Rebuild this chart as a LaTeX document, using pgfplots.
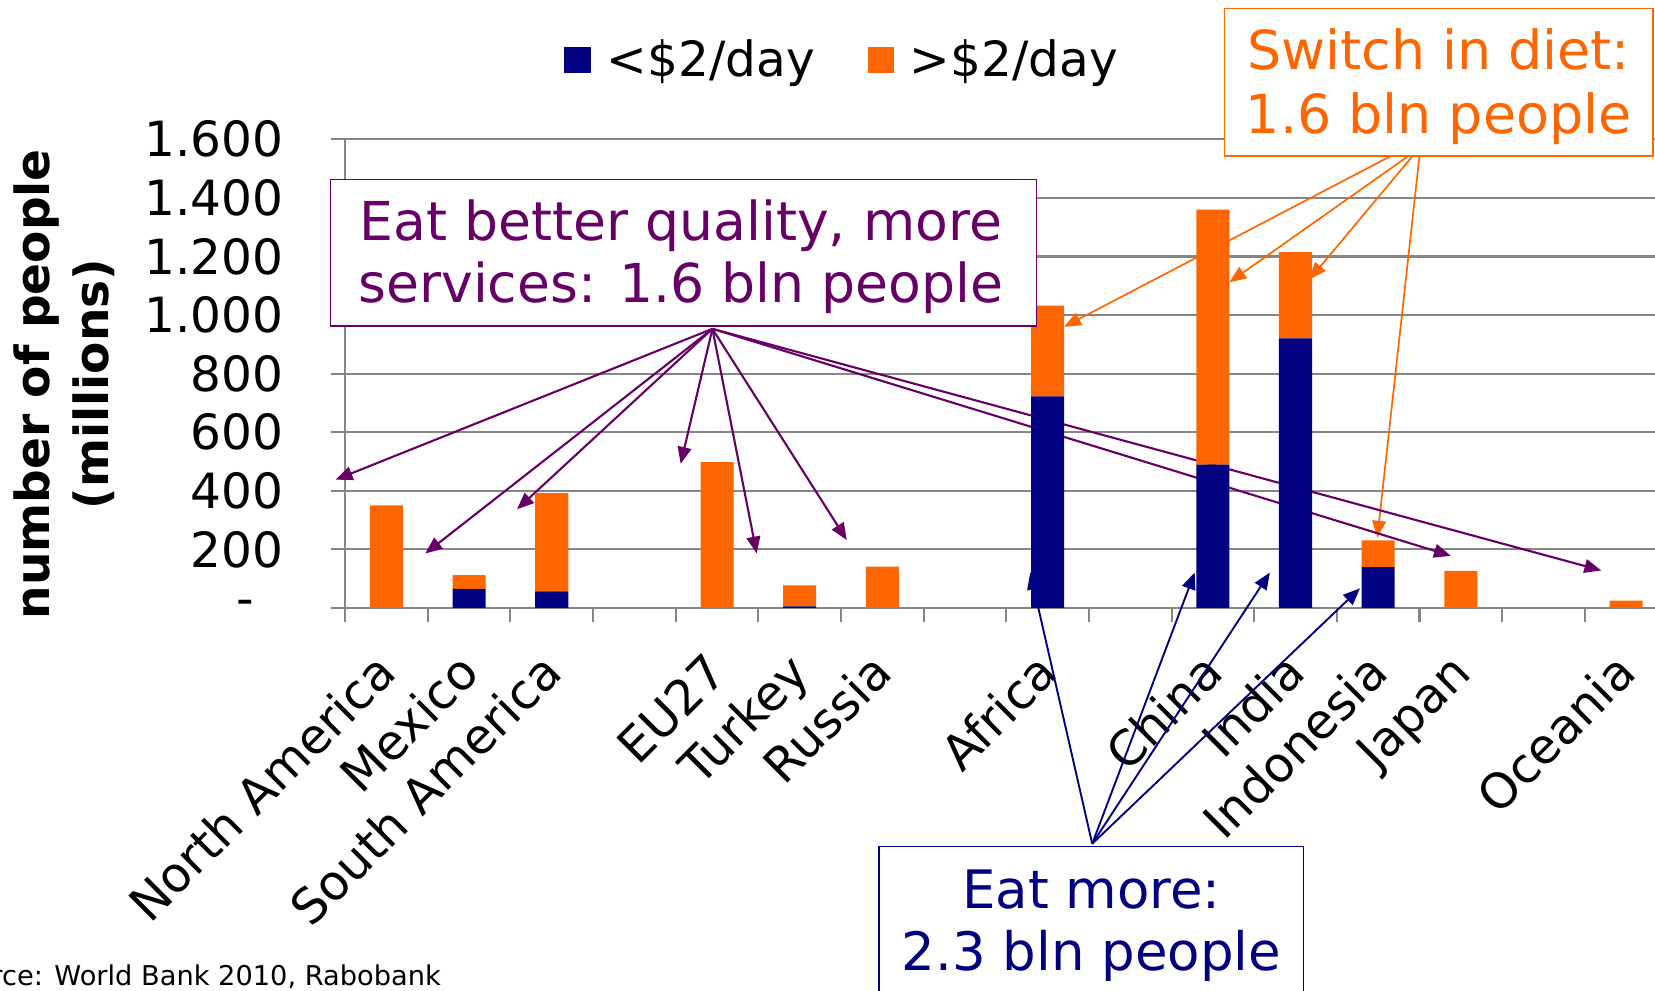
\documentclass[border=0pt]{standalone}
\usepackage{pgfplots}
\pgfplotsset{compat=1.18}
\usetikzlibrary{arrows.meta}
\usepackage{fontspec}
\setmainfont{DejaVu Sans}
\definecolor{navy}{HTML}{000080}
\definecolor{orng}{HTML}{FF6600}
\definecolor{purp}{HTML}{660066}
\definecolor{gridgray}{HTML}{868686}
\tikzset{
  parr/.style={draw=purp, line width=1pt, -{Triangle[length=8pt,width=6.5pt]}},
  oarr/.style={draw=orng, line width=0.8pt, -{Triangle[length=8pt,width=6.5pt]}},
  barr/.style={draw=navy, line width=0.9pt, -{Triangle[length=8pt,width=6.5pt]}},
}
\begin{document}
\begin{tikzpicture}
\useasboundingbox (0pt,0pt) rectangle (784pt,469pt);
\begin{axis}[
  at={(163.5pt,181pt)}, anchor=south west,
  scale only axis, width=620.5pt, height=222pt,
  xmin=-0.5, xmax=15.35, ymin=0, ymax=1600,
  clip=false,
  ybar stacked, bar width=0.4,
  axis lines*=left,
  axis line style={draw=gridgray, line width=1pt, -},
  ytick={0,200,...,1600},
  yticklabels={{\makebox[22.5pt][l]{-}},200,400,600,800,1.000,1.200,1.400,1.600},
  ymajorgrids, grid style={draw=gridgray, line width=1pt},
  tick align=outside,
  major tick length=6.5pt,
  tick style={draw=gridgray, line width=1pt},
  xtick={-0.5,0.5,...,15.5},
  xticklabels={},
  extra x ticks={0,...,15},
  extra x tick labels={North America,Mexico,South America,,EU27,Turkey,Russia,,Africa,,China,India,Indonesia,Japan,,Oceania},
  extra x tick style={major tick length=0pt},
  yticklabel style={font=\fontsize{23}{27}\selectfont, anchor=east, inner sep=0pt, xshift=-22.5pt},
  xticklabel style={font=\fontsize{23}{28}\selectfont, anchor=base east, inner sep=0pt, xshift=6pt, yshift=-32pt, rotate=45},
  legend style={at={(0.3787,1.169)}, anchor=center, draw=none, fill=none,
    font=\fontsize{23}{27}\selectfont, legend columns=2,
    nodes={inner sep=0pt},
    /tikz/every odd column/.append style={column sep=7.5pt},
    /tikz/every even column/.append style={column sep=25pt}},
  legend image code/.code={\fill[#1] (0pt,-6.25pt) rectangle (12.5pt,6.25pt);},
]
\addplot[fill=navy, draw=none] coordinates {(0,0) (1,65) (2,57) (4,0) (5,5) (6,0) (8,722) (10,489) (11,920) (12,139) (13,0) (15,0)};
\addplot[fill=orng, draw=none] coordinates {(0,350) (1,47) (2,335) (4,498) (5,72) (6,141) (8,310) (10,871) (11,295) (12,92) (13,127) (15,25)};
\legend{<\$2/day, >\$2/day}
\draw[parr] (axis cs:3.944,953) -- (axis cs:-0.615,438);
\draw[parr] (axis cs:3.944,953) -- (axis cs:0.47,186);
\draw[parr] (axis cs:3.944,953) -- (axis cs:1.58,337);
\draw[parr] (axis cs:3.944,953) -- (axis cs:3.56,492);
\draw[parr] (axis cs:3.944,953) -- (axis cs:4.48,186);
\draw[parr] (axis cs:3.944,953) -- (axis cs:5.57,232);
\draw[parr] (axis cs:3.944,953) -- (axis cs:12.88,178);
\draw[parr] (axis cs:3.944,953) -- (axis cs:14.70,128);
\draw[oarr] (axis cs:12.16,1544) -- (axis cs:8.20,960);
\draw[oarr] (axis cs:12.37,1544) -- (axis cs:10.20,1112);
\draw[oarr] (axis cs:12.42,1544) -- (axis cs:11.17,1122);
\draw[oarr] (axis cs:12.50,1544) -- (axis cs:11.99,240);
\draw[barr] (axis cs:8.54,-805) -- (axis cs:7.79,121);
\draw[barr] (axis cs:8.54,-805) -- (axis cs:9.78,121);
\draw[barr] (axis cs:8.54,-805) -- (axis cs:10.69,121);
\draw[barr] (axis cs:8.54,-805) -- (axis cs:11.78,67);
\end{axis}
\begin{scope}[shift={(0pt,469pt)}, x=0.5pt, y=-0.5pt]
\node[rotate=90, align=center, font=\bfseries\fontsize{22.3}{28}\selectfont] at (61,364) {number of people\\(millions)};
\node[draw=purp, line width=0.8pt, fill=white, text=purp, minimum width=334.5pt, minimum height=69.5pt, inner sep=0pt] at (647.5,239.5) {};
\node[text=purp, align=center, font=\fontsize{25.4}{29.5}\selectfont, inner sep=0pt] at (645,243.5) {Eat better quality, more\\services: 1.6 bln people};
\node[draw=orng, line width=0.8pt, fill=white, minimum width=203pt, minimum height=70pt, inner sep=0pt] at (1363,78) {};
\node[text=orng, align=center, font=\fontsize{25.5}{30}\selectfont, inner sep=0pt] at (1363,82) {Switch in diet:\\1.6 bln people};
\draw[navy, line width=0.8pt, fill=white] (833,802) rectangle (1235,960);
\node[text=navy, align=center, font=\fontsize{25.1}{29}\selectfont, inner sep=0pt] at (1034,877) {Eat more:\\2.3 bln people};
\node[anchor=base east, inner sep=0pt, font=\fontsize{12.9}{15}\selectfont] at (418,934) {Source: World Bank 2010, Rabobank};
\end{scope}
\end{tikzpicture}
\end{document}
